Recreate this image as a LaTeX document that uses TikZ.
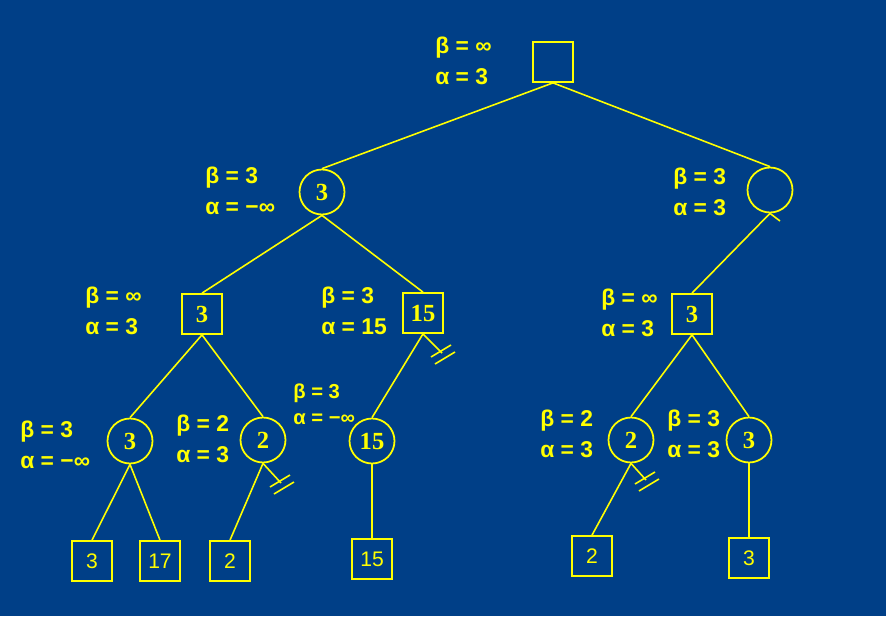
\documentclass[tikz,border=0pt]{standalone}
\usepackage{fontspec}
\setmainfont{Liberation Sans}
\newfontfamily\numfont{Liberation Serif}
\usepackage{xcolor}
\definecolor{gamebg}{HTML}{003F87}
\definecolor{gameyel}{HTML}{FFFF00}
\usetikzlibrary{positioning}

\begin{document}
\begin{tikzpicture}[x=0.02cm, y=-0.02cm,
  maxnode/.style={rectangle, draw=gameyel, line width=1pt, minimum size=0.8cm,
    inner sep=0pt, text=gameyel, font=\numfont\bfseries\fontsize{14}{14}\selectfont},
  minnode/.style={circle, draw=gameyel, line width=1pt, minimum size=0.9cm,
    inner sep=0pt, text=gameyel, font=\numfont\bfseries\fontsize{14}{14}\selectfont},
  leafnode/.style={rectangle, draw=gameyel, line width=1pt, minimum size=0.8cm,
    inner sep=0pt, text=gameyel, font=\fontsize{12}{12}\selectfont},
  bounds/.style={align=left, anchor=west, inner sep=0pt, text=gameyel,
    font=\bfseries\fontsize{13}{17.5}\selectfont},
  edge/.style={draw=gameyel, line width=0.9pt}
]
\fill[gamebg] (0,0) rectangle (886,616);
\useasboundingbox (0,0) rectangle (886,616);

% tree nodes
\node[maxnode] (r) at (553,62) {};
\node[minnode] (a) at (322,192) {3};
\node[minnode] (b) at (770,190) {};
\node[maxnode] (aa) at (202,314) {3};
\node[maxnode] (ab) at (423,313) {15};
\node[maxnode] (ba) at (692,314) {3};
\node[minnode] (aaa) at (130,441) {3};
\node[minnode] (aab) at (263,440) {2};
\node[minnode] (aba) at (372,441) {15};
\node[minnode] (baa) at (631,440) {2};
\node[minnode] (bab) at (749,440) {3};

% leaves
\node[leafnode] (l1) at (92,561) {3};
\node[leafnode] (l2) at (160,561) {17};
\node[leafnode] (l3) at (230,561) {2};
\node[leafnode] (l4) at (372,559) {15};
\node[leafnode] (l5) at (592,556) {2};
\node[leafnode] (l6) at (749,558) {3};

% alpha / beta
\node[bounds] (br) at (435,61) {β = ∞\\α = 3};
\node[bounds] (ba1) at (205,191) {β = 3\\α = −∞};
\node[bounds] (bb1) at (673,192) {β = 3\\α = 3};
\node[bounds] (baa1) at (85,311) {β = ∞\\α = 3};
\node[bounds] (bab1) at (321,311) {β = 3\\α = 15};
\node[bounds] (bba1) at (601,313) {β = ∞\\α = 3};
\node[bounds] (baaa) at (20,445) {β = 3\\α = −∞};
\node[bounds] (baab) at (176,439) {β = 2\\α = 3};
\node[bounds, font=\bfseries\fontsize{11.5}{15}\selectfont] (baba) at (293,404) {β = 3\\α = −∞};
\node[bounds] (bbaa) at (540,434) {β = 2\\α = 3};
\node[bounds] (bbab) at (667,434) {β = 3\\α = 3};

% edges
\draw[edge] (r.south) -- (a.north);
\draw[edge] (r.south) -- (b.north);
\draw[edge] (a.south) -- (aa.north);
\draw[edge] (a.south) -- (ab.north);
\draw[edge] (b.south) -- (ba.north);
\draw[edge] (aa.south) -- (aaa.north);
\draw[edge] (aa.south) -- (aab.north);
\draw[edge] (ab.south) -- (aba.north);
\draw[edge] (ba.south) -- (baa.north);
\draw[edge] (ba.south) -- (bab.north);
\draw[edge] (aaa.south) -- (l1.north);
\draw[edge] (aaa.south) -- (l2.north);
\draw[edge] (aab.south) -- (l3.north);
\draw[edge] (aba.south) -- (l4.north);
\draw[edge] (baa.south) -- (l5.north);
\draw[edge] (bab.south) -- (l6.north);

% cut off branches
\coordinate (cb) at (780,221);
\coordinate (cab) at (442,353);
\coordinate (caab) at (281,483);
\coordinate (cbaa) at (646,480);
\draw[edge] (b.south) -- (cb);
\draw[edge] (ab.south) -- (cab);
\draw[edge] (aab.south) -- (caab);
\draw[edge] (baa.south) -- (cbaa);
\foreach \c in {cab, caab, cbaa} {
  \draw[edge] ([shift={(-11,4)}]\c) -- ++(20,-12);
  \draw[edge] ([shift={(-7,11)}]\c) -- ++(20,-12);
}
\end{tikzpicture}
\end{document}
